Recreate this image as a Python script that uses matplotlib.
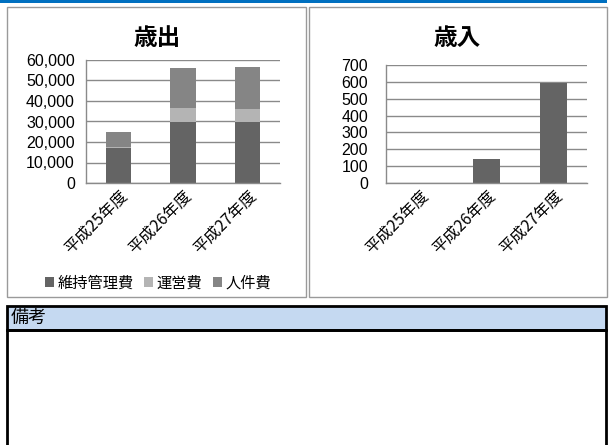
# 歳出 / 歳入 bar charts with a 備考 box underneath
import matplotlib
matplotlib.use("Agg")
import matplotlib.pyplot as plt
from matplotlib.patches import Rectangle
from matplotlib.ticker import FuncFormatter, MultipleLocator

plt.rcParams["font.family"] = ["Noto Sans CJK JP", "DejaVu Sans"]

# --- data ---
years = ["平成25年度", "平成26年度", "平成27年度"]
maint = [17000, 30000, 30000]      # 維持管理費
ops = [700, 6400, 6100]            # 運営費
staff = [7300, 19850, 20300]       # 人件費
revenue = [0, 140, 595]            # 歳入

C_DARK, C_LIGHT, C_MID = "#646464", "#b4b4b4", "#858585"
GRID = "#8a8a8a"
W, H = 616, 445


def px(x0, y0, x1, y1):
    """pixel box (top-left origin) -> figure fraction rect"""
    return [x0 / W, 1 - y1 / H, (x1 - x0) / W, (y1 - y0) / H]


def style_axes(ax, ypad=8):
    ax.set_axisbelow(True)
    ax.grid(axis="y", color=GRID, lw=1.0)
    for s in ["top", "right"]:
        ax.spines[s].set_visible(False)
    for s in ["left", "bottom"]:
        ax.spines[s].set_color(GRID)
        ax.spines[s].set_linewidth(1.0)
    ax.tick_params(axis="y", length=0, labelsize=11.5, pad=ypad)
    ax.tick_params(axis="x", length=0, pad=3)
    ax.set_xlim(-0.5, 2.5)
    ax.set_xticks(range(len(years)))
    ax.set_xticklabels(years, rotation=45, ha="right", rotation_mode="anchor", fontsize=11.5)
    for lab in ax.get_yticklabels():
        lab.set_fontfamily(["Liberation Sans", "DejaVu Sans"])


fig = plt.figure(figsize=(W / 100, H / 100), dpi=100)

# background frames
fig.add_artist(Rectangle((0, 1 - 3 / H), 607 / W, 3 / H, transform=fig.transFigure,
                         facecolor="#0070c0", edgecolor="none"))
for x0, x1 in [(7, 306), (309, 607)]:
    r = px(x0, 7, x1, 297)
    fig.add_artist(Rectangle((r[0], r[1]), r[2], r[3], transform=fig.transFigure,
                             facecolor="none", edgecolor="#9a9a9a", lw=1.0))

# 歳出 (stacked)
ax1 = fig.add_axes(px(86, 60, 280, 183))
x = range(len(years))
b1 = ax1.bar(x, maint, width=0.39, color=C_DARK, label="維持管理費")
b2 = ax1.bar(x, ops, width=0.39, bottom=maint, color=C_LIGHT, label="運営費")
bottom2 = [a + b for a, b in zip(maint, ops)]
b3 = ax1.bar(x, staff, width=0.39, bottom=bottom2, color=C_MID, label="人件費")
ax1.set_ylim(0, 60000)
ax1.yaxis.set_major_locator(MultipleLocator(10000))
ax1.yaxis.set_major_formatter(FuncFormatter(lambda v, p: f"{v:,.0f}"))
style_axes(ax1)
fig.text(157 / W, 1 - 38 / H, "歳出", ha="center", va="center", fontsize=17, fontweight="bold")

# 歳入
ax2 = fig.add_axes(px(386, 65, 587, 183))
ax2.bar(x, revenue, width=0.40, color=C_DARK)
ax2.set_ylim(0, 700)
ax2.yaxis.set_major_locator(MultipleLocator(100))
style_axes(ax2, ypad=13)
fig.text(457 / W, 1 - 38 / H, "歳入", ha="center", va="center", fontsize=17, fontweight="bold")

# legend under the 歳出 chart
fig.legend(handles=[b1, b2, b3], loc="center", bbox_to_anchor=(158 / W, 1 - 283 / H),
           ncol=3, frameon=False, fontsize=11, handlelength=0.6, handleheight=0.6,
           handletextpad=0.2, columnspacing=0.7)

# 備考 box
r = px(7, 306, 606, 330)
fig.add_artist(Rectangle((r[0], r[1]), r[2], r[3], transform=fig.transFigure,
                         facecolor="#c5d9f1", edgecolor="black", lw=2))
r = px(7, 330, 606, 450)
fig.add_artist(Rectangle((r[0], r[1]), r[2], r[3], transform=fig.transFigure,
                         facecolor="none", edgecolor="black", lw=2))
fig.text(11 / W, 1 - 318 / H, "備考", ha="left", va="center", fontsize=13)

fig.savefig("out.png", dpi=100)
